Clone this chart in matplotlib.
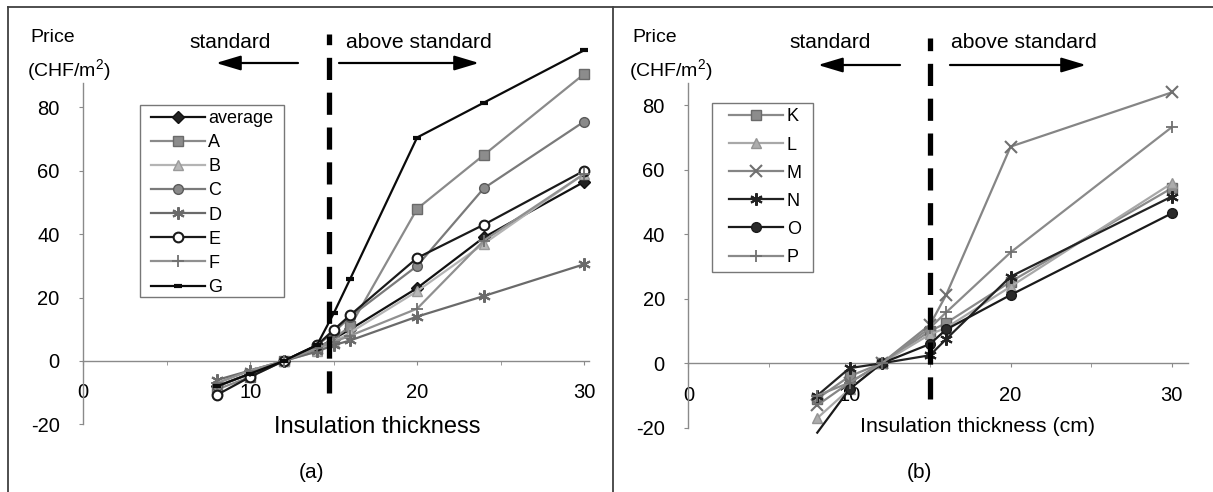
import matplotlib
matplotlib.use("Agg")
import matplotlib.pyplot as plt
from matplotlib.lines import Line2D
from matplotlib.patches import Rectangle, FancyArrowPatch

plt.rcParams['font.family'] = ['Liberation Sans', 'DejaVu Sans']
plt.rcParams['axes.unicode_minus'] = False
plt.rcParams['mathtext.fontset'] = 'custom'
plt.rcParams['mathtext.rm'] = 'Liberation Sans'
plt.rcParams['mathtext.it'] = 'Liberation Sans:italic'

# ---------------- data ----------------
x_a = [8, 10, 12, 14, 15, 16, 20, 24, 30]
avg_a = [-8, -4, 0, 4, 7, 10, 23, 39, 56.5]
A_a = [-9, -5, 0, 4, 7, 11, 48, 65, 90.5]
B_a = [-7, -3, 0, 3, 6, 9, 22, 37, 59]
C_a = [-8, -4, 0, 5, 9, 14, 30, 54.5, 75.5]
D_a = [-6, -3, 0, 3, 5, 6.5, 14, 20.5, 30.5]
E_a = [-10.7, -5, 0, 5, 9.8, 14.5, 32.5, 43, 60]
F_a = [-7, -3, 0, 4, 6, 8, 16.5, 38, 59]
G_a = [-8, -4, 0, 5, 15, 26, 70.5, 81.5, 98]

x_b = [8, 10, 12, 15, 16, 20, 30]
K_b = [-11, -4, 0, 10, 12.5, 25.3, 54.3]
L_b = [-17, -8, 0, 9, 11, 23.8, 55.8]
M_b = [-13, -6, 0, 12, 21.2, 67.2, 84]
N_b = [-10, -1.5, 0, 2.5, 7.5, 26.9, 51.7]
O_b = [-21.5, -8, 0, 6, 10.5, 21.2, 46.5]
P_b = [-10, -6, 0, 11, 15.8, 34.4, 73.2]

xticks = [0, 10, 20, 30]
xminor = [5, 15, 25]
yticks = [-20, 0, 20, 40, 60, 80]

W, H = 1213, 492
fig = plt.figure(figsize=(W / 100, H / 100), dpi=100)


def fx(px):
    return px / W


def fy(py):
    return 1 - py / H


AST = (6, 2, 0)

series_a = [
    ("average", avg_a, dict(color="#111111", marker="D", ms=6, mfc="#222222", mec="#111111")),
    ("A", A_a, dict(color="#8a8a8a", marker="s", ms=7, mfc="#8c8c8c", mec="#6a6a6a")),
    ("B", B_a, dict(color="#b4b4b4", marker="^", ms=7, mfc="#b8b8b8", mec="#9a9a9a")),
    ("C", C_a, dict(color="#7a7a7a", marker="o", ms=7, mfc="#8a8a8a", mec="#5a5a5a")),
    ("D", D_a, dict(color="#6a6a6a", marker=AST, ms=9, mec="#6a6a6a", mew=1.5)),
    ("E", E_a, dict(color="#1a1a1a", marker="o", ms=7, mfc="white", mec="#1a1a1a", mew=1.5)),
    ("F", F_a, dict(color="#909090", marker="+", ms=9, mec="#707070", mew=1.3)),
    ("G", G_a, dict(color="#0a0a0a", marker="_", ms=6, mec="#0a0a0a", mew=3)),
]

series_b = [
    ("K", K_b, dict(color="#8a8a8a", marker="s", ms=7, mfc="#8c8c8c", mec="#6a6a6a")),
    ("L", L_b, dict(color="#a8a8a8", marker="^", ms=7, mfc="#acacac", mec="#949494")),
    ("M", M_b, dict(color="#858585", marker="x", ms=8, mec="#707070", mew=1.5)),
    ("N", N_b, dict(color="#222222", marker=AST, ms=9, mec="#222222", mew=1.5)),
    ("O", O_b, dict(color="#1a1a1a", marker="o", ms=7, mfc="#2a2a2a", mec="#1a1a1a",
                    markevery=[1, 2, 3, 4, 5, 6])),
    ("P", P_b, dict(color="#8a8a8a", marker="+", ms=9, mec="#707070", mew=1.3)),
]


def setup_axes(ax, xmax, ymax):
    ax.set_xlim(0, xmax)
    ax.set_ylim(-20, ymax)
    for s in ["top", "right"]:
        ax.spines[s].set_visible(False)
    ax.spines["bottom"].set_position(("data", 0))
    for s in ["left", "bottom"]:
        ax.spines[s].set_color("#8a8a8a")
        ax.spines[s].set_linewidth(1.0)
    ax.set_xticks(xticks)
    ax.set_xticks(xminor, minor=True)
    ax.set_yticks(yticks)
    ax.tick_params(axis="x", which="both", direction="out", length=3, color="#8a8a8a",
                   labelsize=14.5, pad=13)
    ax.tick_params(axis="y", direction="out", length=3, color="#8a8a8a",
                   labelsize=14.5, pad=14)
    ax.patch.set_alpha(0)


def boxed_legend(ax, hx, row1, spacing, box):
    leg = ax.legend(loc="upper left", bbox_to_anchor=(fx(hx), fy(row1 - 8.3)),
                    bbox_transform=fig.transFigure, fontsize=13, frameon=False,
                    handlelength=3.0 if spacing < 25 else 2.75, handletextpad=0.18,
                    labelspacing=spacing, borderpad=0, borderaxespad=0)
    x0, y0, x1, y1 = box
    fig.add_artist(Rectangle((fx(x0), fy(y1)), fx(x1) - fx(x0), fy(y0) - fy(y1),
                             transform=fig.transFigure, fill=False,
                             edgecolor="#777777", lw=1.0))
    return leg


# ---------------- panel (a) ----------------
ax1 = fig.add_axes([fx(83.3), fy(424.4), 30.3 * 16.69 / W, (424.4 - 83.3) / H])
setup_axes(ax1, 30.3, 87.6)
for name, ys, st in series_a:
    ax1.plot(x_a, ys, lw=1.6, label=name, clip_on=False, zorder=3, **st)
ax1.plot([14.7, 14.7], [-10, 103], color="black", lw=3.8, dashes=(4.2, 2.4),
         clip_on=False, zorder=4)
boxed_legend(ax1, 150.7, 118.3, 0.395, (140, 105, 284, 297))

# ---------------- panel (b) ----------------
ax2 = fig.add_axes([fx(688.4), fy(427.8), 31 * 16.11 / W, (427.8 - 83.4) / H])
setup_axes(ax2, 31, 86.8)
for name, ys, st in series_b:
    ax2.plot(x_b, ys, lw=1.6, label=name, clip_on=False, zorder=3, **st)
ax2.plot([15, 15], [-11, 101], color="black", lw=3.8, dashes=(4.2, 2.4),
         clip_on=False, zorder=4)
boxed_legend(ax2, 729.3, 116.7, 0.615, (711.7, 103.3, 812.7, 271.7))

# ---------------- texts ----------------
tkw = dict(color="black")
fig.text(fx(30.6), fy(38), "Price", fontsize=14, va="center", ha="left", **tkw)
fig.text(fx(27), fy(70), "(CHF/m$^{2}$)", fontsize=14, va="center", ha="left", **tkw)
fig.text(fx(632), fy(38), "Price", fontsize=14, va="center", ha="left", **tkw)
fig.text(fx(629), fy(70), "(CHF/m$^{2}$)", fontsize=14, va="center", ha="left", **tkw)

fig.text(fx(230), fy(42), "standard", fontsize=15, va="center", ha="center", **tkw)
fig.text(fx(419), fy(42), "above standard", fontsize=15.2, va="center", ha="center", **tkw)
fig.text(fx(830), fy(43), "standard", fontsize=15, va="center", ha="center", **tkw)
fig.text(fx(1024), fy(43), "above standard", fontsize=15.2, va="center", ha="center", **tkw)

fig.text(fx(377), fy(427), "Insulation thickness", fontsize=17, va="center", ha="center", **tkw)
fig.text(fx(978), fy(427), "Insulation thickness (cm)", fontsize=15.4, va="center", ha="center", **tkw)

fig.text(fx(312), fy(472), "(a)", fontsize=15, va="center", ha="center", **tkw)
fig.text(fx(919), fy(472), "(b)", fontsize=15, va="center", ha="center", **tkw)

aprops = dict(arrowstyle="-|>,head_length=1.5,head_width=0.45", mutation_scale=10,
              color="black", lw=1.6, shrinkA=0, shrinkB=0)
for (x0, x1, yy) in [(298, 216, 63), (339, 479, 63), (900, 818, 65), (950, 1086, 65)]:
    fig.add_artist(FancyArrowPatch((fx(x0), fy(yy)), (fx(x1), fy(yy)),
                                   transform=fig.transFigure, **aprops))

# ---------------- frame lines ----------------
lkw = dict(color="#404040", lw=1.3, transform=fig.transFigure)
fig.add_artist(Line2D([fx(8), 1], [fy(7), fy(7)], **lkw))
fig.add_artist(Line2D([fx(8), fx(8)], [0, fy(7)], **lkw))
fig.add_artist(Line2D([fx(613), fx(613)], [0, fy(7)], **lkw))

fig.savefig("out.png", dpi=100, facecolor="white")
